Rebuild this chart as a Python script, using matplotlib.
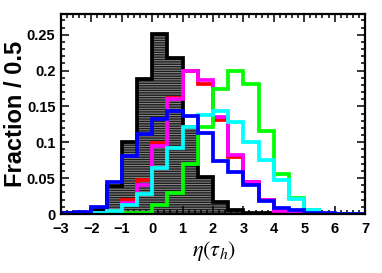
import numpy as np
import matplotlib
matplotlib.use("Agg")
import matplotlib.pyplot as plt
from matplotlib import font_manager
from matplotlib.ticker import MultipleLocator, FixedLocator, FixedFormatter

# ---- data -------------------------------------------------------------
eta_edges = [-3.0, -2.5, -2.0, -1.5, -1.0, -0.5, 0.0, 0.5, 1.0, 1.5, 2.0,
             2.5, 3.0, 3.5, 4.0, 4.5, 5.0, 5.5, 6.0, 6.5, 7.0]

black_vals = [0.001, 0.002, 0.005, 0.039, 0.101, 0.188, 0.251, 0.218, 0.122, 0.051,
              0.017, 0.006, 0.002, 0.001, 0.0, 0.0, 0.0, 0.0, 0.0, 0.0]
red_vals = [0.0, 0.0, 0.001, 0.004, 0.020, 0.047, 0.099, 0.162, 0.199, 0.182,
            0.131, 0.079, 0.044, 0.019, 0.004, 0.001, 0.0, 0.0, 0.0, 0.0]
magenta_vals = [0.0, 0.0, 0.001, 0.003, 0.016, 0.041, 0.095, 0.161, 0.199, 0.187,
                0.136, 0.083, 0.045, 0.020, 0.004, 0.001, 0.0, 0.0, 0.0, 0.0]
green_vals = [0.0, 0.0, 0.0, 0.001, 0.001, 0.002, 0.013, 0.029, 0.070, 0.121,
              0.174, 0.200, 0.181, 0.116, 0.056, 0.022, 0.005, 0.0, 0.0, 0.0]
cyan_vals = [0.0, 0.001, 0.002, 0.004, 0.012, 0.028, 0.064, 0.092, 0.121, 0.138,
             0.143, 0.128, 0.101, 0.076, 0.047, 0.021, 0.006, 0.0, 0.0, 0.0]
blue_vals = [0.001, 0.003, 0.010, 0.045, 0.081, 0.111, 0.133, 0.144, 0.137, 0.113,
             0.074, 0.059, 0.040, 0.018, 0.008, 0.005, 0.001, 0.001, 0.0005, 0.0005]

x_ticks = [-3, -2, -1, 0, 1, 2, 3, 4, 5, 6, 7]
x_ticklabels = ["\u22123", "\u22122", "\u22121", "0", "1", "2", "3", "4", "5", "6", "7"]
y_ticks = [0, 0.05, 0.1, 0.15, 0.2, 0.25]
y_ticklabels = ["0", "0.05", "0.1", "0.15", "0.2", "0.25"]

# ---- fonts ------------------------------------------------------------
available = {f.name for f in font_manager.fontManager.ttflist}
tick_family = "Liberation Sans Narrow" if "Liberation Sans Narrow" in available else "Liberation Sans"
tick_size = 12 if tick_family == "Liberation Sans Narrow" else 10.5

plt.rcParams["hatch.linewidth"] = 0.7
plt.rcParams["mathtext.fontset"] = "stix"

W, H = 382, 273
fig = plt.figure(figsize=(W / 100, H / 100), dpi=100)
ax = fig.add_axes([61 / W, 1 - 214 / H, (365 - 61) / W, (214 - 14) / H])

lw = 2.7
# filled black histogram with horizontal hatching
ax.stairs(black_vals, eta_edges, fill=True, facecolor="#1e1e1e", edgecolor="none",
          linewidth=0, zorder=1)
ax.stairs(black_vals, eta_edges, fill=True, facecolor="none", edgecolor="#8a8a8a",
          hatch="-------", linewidth=0, zorder=1.5)
ax.stairs(black_vals, eta_edges, color="black", linewidth=lw, zorder=2)

ax.stairs(red_vals, eta_edges, color="#ff0000", linewidth=lw, zorder=3)
ax.stairs(magenta_vals, eta_edges, color="#ff00ff", linewidth=lw, zorder=4)
ax.stairs(green_vals, eta_edges, color="#00ff00", linewidth=lw, zorder=5)
ax.stairs(cyan_vals, eta_edges, color="#00ffff", linewidth=lw, zorder=6)
ax.stairs(blue_vals, eta_edges, color="#0000ff", linewidth=lw, zorder=7)

ax.set_xlim(eta_edges[0], eta_edges[-1])
ax.set_ylim(0, 0.279)

ax.xaxis.set_major_locator(FixedLocator(x_ticks))
ax.xaxis.set_major_formatter(FixedFormatter(x_ticklabels))
ax.xaxis.set_minor_locator(MultipleLocator(0.2))
ax.yaxis.set_major_locator(FixedLocator(y_ticks))
ax.yaxis.set_major_formatter(FixedFormatter(y_ticklabels))
ax.yaxis.set_minor_locator(MultipleLocator(0.01))

ax.tick_params(which="both", direction="in", top=True, right=True, width=1.1)
ax.tick_params(which="major", length=6)
ax.tick_params(which="minor", length=3)
ax.tick_params(axis="x", which="major", pad=6)
ax.tick_params(axis="y", which="major", pad=4)
for s in ax.spines.values():
    s.set_linewidth(1.6)
    s.set_zorder(10)

for lab in ax.get_xticklabels():
    lab.set_fontfamily(tick_family)
    lab.set_fontsize(tick_size)
    lab.set_fontweight("bold")
for lab in ax.get_yticklabels():
    lab.set_fontfamily(tick_family)
    lab.set_fontsize(tick_size)
    lab.set_fontweight("bold")

fig.text(15.5 / W, 1 - 114 / H, "Fraction / 0.5", rotation=90, ha="center", va="center",
         fontsize=17, fontweight="bold", family="Liberation Sans")
fig.text(214 / W, 1 - 251 / H, r"$\eta(\tau_{h})$", ha="center", va="center",
         fontsize=16)

fig.savefig("out.png", dpi=100)
